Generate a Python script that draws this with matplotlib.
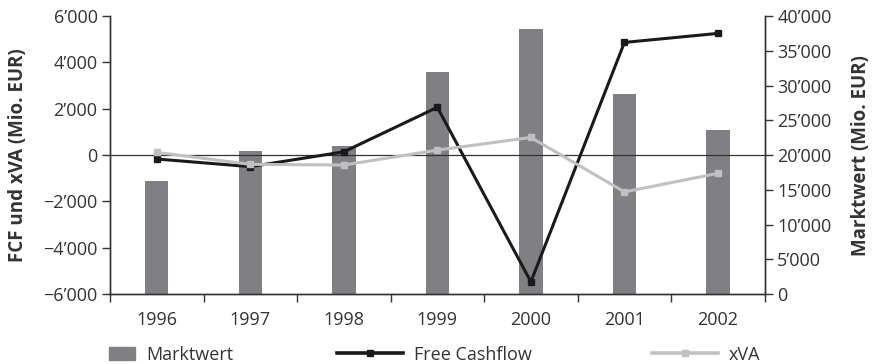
import matplotlib.pyplot as plt
from matplotlib.ticker import FuncFormatter, FixedLocator
from matplotlib.lines import Line2D
from matplotlib.patches import Patch
import numpy as np

years = ["1996", "1997", "1998", "1999", "2000", "2001", "2002"]
marktwert = [16250, 20600, 21300, 32000, 38200, 28800, 23600]
free_cashflow = [-170, -500, 140, 2060, -5470, 4860, 5250]
xva = [115, -400, -430, 215, 760, -1590, -790]

BAR_COLOR = "#808084"
FCF_COLOR = "#1a1a1a"
XVA_COLOR = "#c0c0c0"
TEXT_COLOR = "#333333"
FS = 13

plt.rcParams["font.family"] = ["Open Sans", "DejaVu Sans"]


def swiss_fmt(v, _pos=None):
    s = f"{abs(int(round(v))):,}".replace(",", "\u2019")
    return ("\u2212" + s) if v < 0 else s


fig = plt.figure(figsize=(8.8, 3.64), dpi=100)
ax = fig.add_axes([0.125, 0.192, 0.744, 0.764])
ax2 = ax.twinx()

x = np.arange(len(years))
ax2.bar(x, marktwert, width=0.25, color=BAR_COLOR)
ax.axhline(0, color="#333333", linewidth=0.9)
ax.plot(x, free_cashflow, color=FCF_COLOR, linewidth=2.2, marker="s",
        markersize=5)
ax.plot(x, xva, color=XVA_COLOR, linewidth=2.2, marker="s", markersize=5)

# lines on top of the bars
ax.set_zorder(ax2.get_zorder() + 1)
ax.patch.set_visible(False)

ax.set_xlim(-0.5, len(years) - 0.5)
ax.set_ylim(-6000, 6000)
ax2.set_ylim(0, 40000)
ax.set_yticks(np.arange(-6000, 6001, 2000))
ax2.set_yticks(np.arange(0, 40001, 5000))
ax.yaxis.set_major_formatter(FuncFormatter(swiss_fmt))
ax2.yaxis.set_major_formatter(FuncFormatter(swiss_fmt))

ax.set_xticks(x)
ax.set_xticklabels(years)
ax.tick_params(axis="x", which="major", length=0, pad=12,
               labelsize=FS, labelcolor=TEXT_COLOR)
ax.xaxis.set_minor_locator(FixedLocator(np.arange(-0.5, len(years), 1.0)))
ax.tick_params(axis="x", which="minor", length=5.5, width=1, color="#333333")

for a in (ax, ax2):
    a.spines["top"].set_visible(False)
    for s in a.spines.values():
        s.set_color("#333333")
        s.set_linewidth(1)
    a.tick_params(axis="y", length=5.5, width=1, color="#333333",
                  labelsize=FS, labelcolor=TEXT_COLOR, pad=3.5)

ax.set_ylabel("FCF und xVA (Mio. EUR)", fontsize=13.5, fontweight="bold",
              color=TEXT_COLOR, labelpad=11)
ax2.set_ylabel("Marktwert (Mio. EUR)", fontsize=13.5, fontweight="bold",
               color=TEXT_COLOR, labelpad=14)

# legend: three entries placed separately to match the spacing
entries = [
    (Patch(color=BAR_COLOR), "Marktwert", 0.124, 1.45),
    (Line2D([], [], color=FCF_COLOR, linewidth=2.6, marker="s", markersize=5),
     "Free Cashflow", 0.383, 3.65),
    (Line2D([], [], color=XVA_COLOR, linewidth=2.6, marker="s", markersize=5),
     "xVA", 0.741, 3.65),
]
for handle, label, xpos, hlen in entries:
    fig.legend([handle], [label], loc="center left",
               bbox_to_anchor=(xpos, 0.026), frameon=False, fontsize=FS,
               handlelength=hlen, handletextpad=0.6, borderpad=0,
               borderaxespad=0, numpoints=1, labelcolor=TEXT_COLOR)

fig.savefig("out.png", dpi=100)
